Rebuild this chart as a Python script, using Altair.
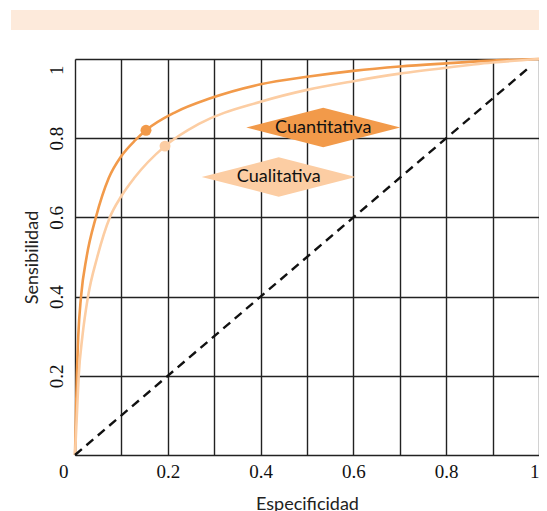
import altair as alt
import pandas as pd

# ---- data ----
spec_cuant = [0.0, 0.002, 0.004, 0.007, 0.013, 0.025, 0.045, 0.073, 0.1, 0.13, 0.153, 0.217, 0.29, 0.4, 0.5, 0.6, 0.7, 0.8, 0.9, 1.0]
sens_cuant = [0.0, 0.1, 0.2, 0.3, 0.4, 0.5, 0.6, 0.7, 0.755, 0.795, 0.82, 0.866, 0.9, 0.936, 0.955, 0.97, 0.981, 0.989, 0.996, 1.0]

spec_cual = [0.0, 0.004, 0.008, 0.016, 0.028, 0.048, 0.075, 0.1, 0.128, 0.194, 0.267, 0.4, 0.5, 0.6, 0.7, 0.8, 0.9, 1.0]
sens_cual = [0.0, 0.1, 0.2, 0.3, 0.4, 0.5, 0.6, 0.654, 0.7, 0.78, 0.836, 0.892, 0.922, 0.944, 0.963, 0.978, 0.991, 1.0]

series = ["Cuantitativa", "Cualitativa"]
colors = ["#f29a4a", "#fccda3"]

dot_spec = [0.153, 0.194]
dot_sens = [0.82, 0.78]

label_spec = [0.535, 0.439]
label_sens = [0.827, 0.702]

diag_spec = [0.0, 0.98]
diag_sens = [0.0, 0.98]

grid_vals = [round(i / 10, 1) for i in range(11)]

# ---- tables ----
curves = pd.DataFrame(
    [{"serie": series[0], "x": a, "y": b, "o": i} for i, (a, b) in enumerate(zip(spec_cuant, sens_cuant))]
    + [{"serie": series[1], "x": a, "y": b, "o": i} for i, (a, b) in enumerate(zip(spec_cual, sens_cual))]
)
dots = pd.DataFrame({"serie": series, "x": dot_spec, "y": dot_sens})
labels = pd.DataFrame({"serie": series, "x": label_spec, "y": label_sens})
diag = pd.DataFrame({"x": diag_spec, "y": diag_sens})
band = pd.DataFrame({"k": [0]})

color_scale = alt.Scale(domain=series, range=colors)
xs = alt.Scale(domain=[0, 1], nice=False)
ys = alt.Scale(domain=[0, 1], nice=False)

serif = "Liberation Serif"
sans = "Lato"

x_axis = alt.Axis(
    values=grid_vals,
    title="Especificidad",
    labelExpr="(round(datum.value*10) % 2 == 0) ? (datum.value == 1 ? '1' : (datum.value == 0 ? '0' : format(datum.value, '.1f'))) : ''",
    labelAlign={"condition": {"test": "datum.value == 0 || datum.value == 1", "value": "right"}, "value": "center"},
    labelOffset={"condition": {"test": "datum.value == 0", "value": -7}, "value": 0},
    labelFont=serif, labelFontSize=19, labelColor="#111", labelPadding=7,
    ticks=False, domain=False,
    grid=True, gridColor="#222", gridWidth=1.4,
    titleFont=sans, titleFontSize=18, titleFontWeight="normal", titleColor="#222", titlePadding=14,
)
y_axis = alt.Axis(
    values=grid_vals,
    title="Sensibilidad",
    labelExpr="(round(datum.value*10) % 2 == 0 && datum.value > 0) ? (datum.value == 1 ? '1' : format(datum.value, '.1f')) : ''",
    labelAngle=270,
    labelBaseline="bottom",
    labelAlign={"condition": {"test": "datum.value == 1", "value": "right"}, "value": "center"},
    labelOffset={"condition": {"test": "datum.value == 1", "value": 6}, "value": 0},
    labelFont=serif, labelFontSize=19, labelColor="#111", labelPadding=9,
    ticks=False, domain=False,
    grid=True, gridColor="#222", gridWidth=1.4,
    titleFont=sans, titleFontSize=18, titleFontWeight="normal", titleColor="#222", titlePadding=6,
)

base_band = alt.Chart(band).mark_rect(color="#fdeadb").encode(
    x=alt.value(-64), x2=alt.value(472), y=alt.value(-49), y2=alt.value(-29)
)

lines = alt.Chart(curves).mark_line(strokeWidth=2.6, interpolate="monotone").encode(
    x=alt.X("x:Q", scale=xs, axis=x_axis),
    y=alt.Y("y:Q", scale=ys, axis=y_axis),
    color=alt.Color("serie:N", scale=color_scale, legend=None),
    order="o:Q",
    detail="serie:N",
)

diag_line = alt.Chart(diag).mark_line(color="#111", strokeWidth=2.4, strokeDash=[9, 6]).encode(
    x=alt.X("x:Q", scale=xs), y=alt.Y("y:Q", scale=ys)
)

dot_layer = alt.Chart(dots).mark_circle(size=120, opacity=1).encode(
    x=alt.X("x:Q", scale=xs), y=alt.Y("y:Q", scale=ys),
    color=alt.Color("serie:N", scale=color_scale, legend=None),
)

diamonds = alt.Chart(labels).mark_point(
    shape="M-1,0L0,-0.255L1,0L0,0.255Z", size=23716, filled=True, opacity=1
).encode(
    x=alt.X("x:Q", scale=xs), y=alt.Y("y:Q", scale=ys),
    color=alt.Color("serie:N", scale=color_scale, legend=None),
)

texts = alt.Chart(labels).mark_text(font=sans, fontSize=18, color="#111", baseline="middle", align="center").encode(
    x=alt.X("x:Q", scale=xs), y=alt.Y("y:Q", scale=ys), text="serie:N"
)

chart = alt.layer(base_band, lines, diag_line, dot_layer, diamonds, texts).properties(
    width=464, height=396,
    autosize=alt.AutoSizeParams(type="none"),
    padding={"left": 67, "top": 51, "right": 0, "bottom": 60},
).configure_view(stroke="#222", strokeWidth=1.4).configure(background="white")

chart.save("out.html", embed_options={"renderer": "svg", "actions": False})
